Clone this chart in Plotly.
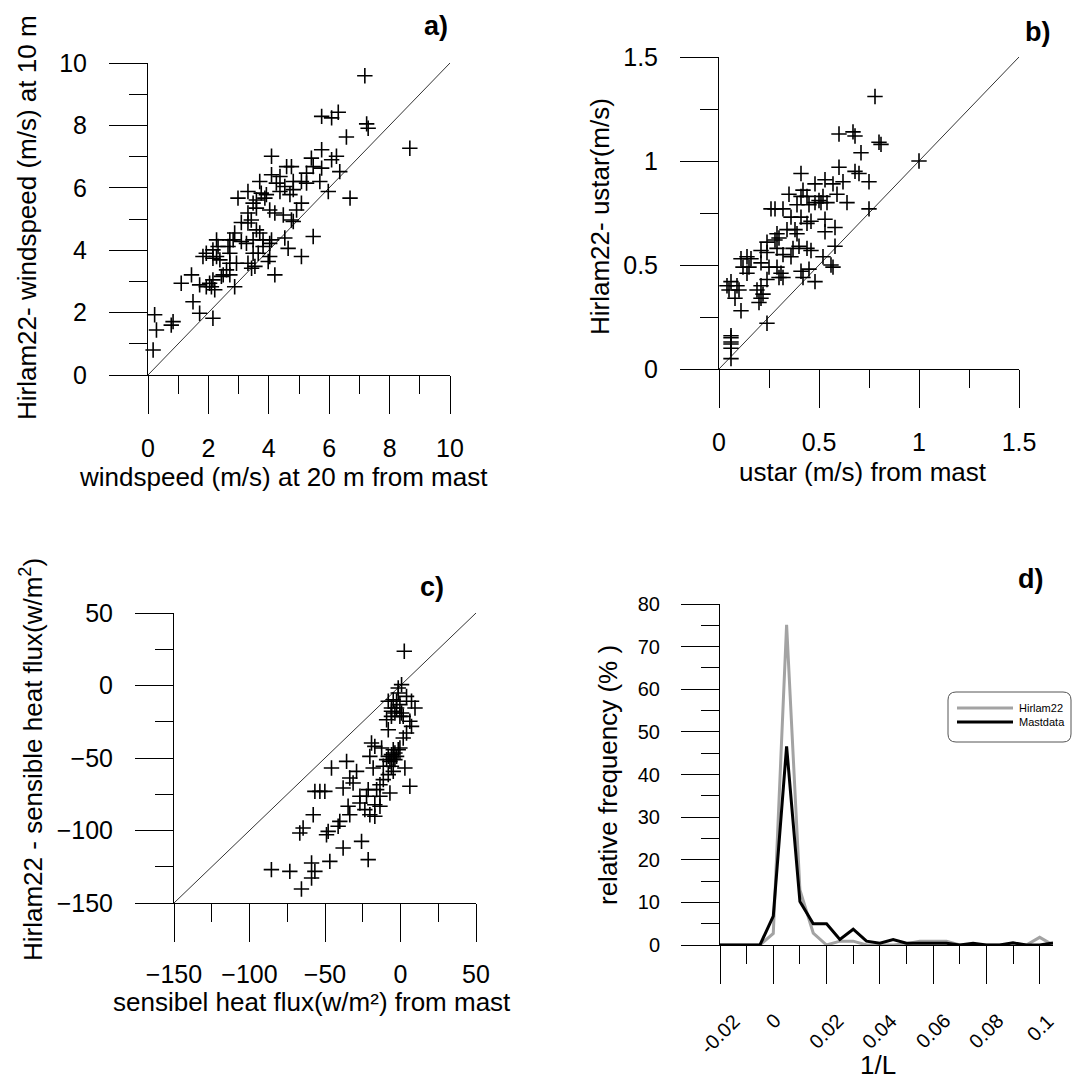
import plotly.graph_objects as go

W, H = 1072, 1079

# a) windspeed: mast (20 m) vs Hirlam22 (10 m), m/s
a_mast = [7.18, 8.67, 5.75, 6.08, 6.30, 7.24, 7.29, 6.57, 5.75, 6.24,
          6.08, 5.41, 5.75, 5.47, 6.35, 4.59, 4.75, 4.09, 5.25, 5.08,
          5.25, 5.69, 5.97, 6.69, 4.09, 4.25, 4.53, 4.81, 4.37, 4.70,
          3.70, 3.31, 2.98, 3.75, 3.92, 3.87, 3.59, 5.08, 4.92, 3.59,
          4.03, 4.20, 4.48, 4.75, 4.81, 3.31, 3.42, 3.31, 3.09, 3.59,
          3.70, 3.81, 4.03, 4.09, 3.81, 3.48, 3.26, 3.09, 2.82, 2.71,
          2.87, 2.65, 2.71, 2.27, 2.32, 2.15, 1.93, 1.82, 2.27, 2.38,
          2.15, 3.48, 3.65, 4.03, 3.98, 3.54, 3.43, 3.31, 2.71, 2.60,
          2.49, 2.43, 4.53, 4.64, 5.08, 5.47, 4.20, 2.87, 2.15, 2.04,
          2.10, 2.21, 1.93, 1.71, 1.44, 1.10, 1.49, 1.71, 2.15, 0.22,
          0.28, 0.83, 0.77, 0.17, 2.71, 4.81, 3.48, 2.93, 4.37]
a_hirlam = [9.59, 7.27, 8.29, 8.24, 8.42, 8.05, 7.91, 7.63, 7.22, 7.01,
            6.90, 6.95, 6.63, 6.68, 6.52, 6.68, 6.68, 7.01, 6.47, 6.20,
            6.15, 6.20, 5.88, 5.67, 6.42, 6.15, 6.04, 5.94, 5.88, 5.78,
            6.20, 5.88, 5.67, 5.83, 5.78, 5.67, 5.61, 5.51, 5.29, 5.35,
            5.29, 5.19, 5.13, 4.97, 4.92, 5.19, 4.97, 4.87, 4.89, 4.65,
            4.55, 4.33, 4.22, 4.33, 4.12, 4.33, 4.22, 4.28, 4.33, 4.33,
            4.55, 4.12, 3.90, 4.33, 4.12, 4.01, 3.90, 3.80, 3.80, 3.69,
            3.74, 3.90, 3.90, 3.80, 3.64, 3.48, 3.42, 3.58, 3.58, 3.37,
            3.21, 3.16, 4.39, 4.06, 3.80, 4.44, 3.21, 2.83, 3.05, 2.94,
            2.83, 2.73, 2.83, 2.89, 3.21, 2.94, 2.35, 1.98, 1.82, 1.93,
            1.44, 1.71, 1.60, 0.80, 3.21, 6.20, 5.51, 3.58, 6.36]

# b) ustar, m/s
b_mast = [0.78, 1.00, 0.60, 0.67, 0.68, 0.80, 0.81, 0.71, 0.60, 0.68,
          0.70, 0.75, 0.62, 0.41, 0.53, 0.48, 0.57, 0.42, 0.35, 0.41,
          0.44, 0.52, 0.59, 0.64, 0.75, 0.48, 0.51, 0.39, 0.45, 0.28,
          0.26, 0.36, 0.41, 0.53, 0.44, 0.46, 0.38, 0.58, 0.53, 0.29,
          0.30, 0.28, 0.24, 0.29, 0.37, 0.40, 0.44, 0.46, 0.58, 0.52,
          0.32, 0.36, 0.21, 0.24, 0.14, 0.11, 0.16, 0.21, 0.12, 0.15,
          0.25, 0.29, 0.31, 0.30, 0.32, 0.41, 0.45, 0.42, 0.56, 0.57,
          0.48, 0.24, 0.21, 0.19, 0.22, 0.21, 0.20, 0.24, 0.04, 0.06,
          0.09, 0.10, 0.08, 0.11, 0.06, 0.06, 0.06, 0.06, 0.06, 0.06,
          0.50, 0.54, 0.05, 0.32, 0.39, 0.34, 0.14]
b_hirlam = [1.31, 1.00, 1.13, 1.14, 1.12, 1.09, 1.08, 1.04, 0.97, 0.95,
            0.94, 0.90, 0.90, 0.94, 0.91, 0.89, 0.89, 0.86, 0.84, 0.83,
            0.83, 0.83, 0.84, 0.80, 0.77, 0.80, 0.80, 0.79, 0.79, 0.77,
            0.77, 0.73, 0.73, 0.72, 0.70, 0.71, 0.67, 0.68, 0.66, 0.65,
            0.63, 0.62, 0.61, 0.58, 0.58, 0.59, 0.58, 0.57, 0.59, 0.54,
            0.55, 0.54, 0.57, 0.56, 0.54, 0.53, 0.53, 0.51, 0.49, 0.49,
            0.49, 0.49, 0.46, 0.44, 0.44, 0.47, 0.48, 0.44, 0.50, 0.49,
            0.42, 0.43, 0.40, 0.38, 0.36, 0.34, 0.32, 0.22, 0.40, 0.42,
            0.40, 0.38, 0.34, 0.28, 0.16, 0.15, 0.13, 0.12, 0.10, 0.05,
            0.81, 0.80, 0.38, 0.77, 0.65, 0.67, 0.46]

# c) sensible heat flux, w/m2
c_mast = [2.5, 0.7, -1.5, -4.8, -8.1, -2.6, 4.0, 7.3, 9.6, -6.0,
          -2.6, -3.7, -6.0, -0.4, 1.8, 6.2, 7.3, -8.1, 4.0, 1.8,
          -19.2, -17.0, -0.4, -4.8, -3.7, -6.0, -8.1, -2.6, -9.2, -7.0,
          -4.8, -20.3, -18.1, -11.4, -6.0, 2.9, -45.7, -35.7, -29.1, -33.6,
          -31.4, -38.0, -8.1, -11.4, -13.6, -15.8, -21.4, -7.0, -22.5, -26.9,
          6.2, -53.4, -56.7, -50.1, -26.9, -34.7, -17.0, -13.6, -23.6, -20.3,
          -17.0, -33.6, -57.8, -64.5, -66.7, -47.9, -49.0, -41.3, -38.0, -25.8,
          -21.4, -46.8, -58.9, -56.7, -58.9, -65.6, -85.5, -73.3, -13.6, -9.2,
          -0.4, -12.5, -40.2, -4.8, -1.5, -3.7, -6.0, -1.5, 0.7]
c_hirlam = [23.6, 0.6, -1.7, -9.8, -10.9, -10.9, -7.5, -10.9, -15.5, -15.5,
            -15.5, -19.0, -21.3, -21.3, -21.3, -24.7, -28.2, -30.5, -32.8, -36.2,
            -39.7, -42.0, -43.1, -44.3, -46.6, -47.7, -48.9, -48.9, -51.1, -52.3,
            -50.0, -48.9, -56.9, -55.7, -55.7, -56.9, -56.9, -52.3, -59.2, -63.8,
            -67.2, -70.7, -61.5, -64.9, -68.4, -71.8, -71.8, -74.1, -76.4, -76.4,
            -69.5, -73.0, -73.0, -73.0, -81.0, -83.3, -82.2, -83.3, -85.6, -89.1,
            -90.2, -89.1, -89.1, -98.3, -101.7, -100.6, -102.9, -97.1, -112.1, -107.5,
            -120.1, -121.3, -122.4, -128.2, -132.8, -140.3, -127.0, -128.2, -76.4, -23.6,
            -13.2, -43.1, -93.7, -59.2, -44.3, -51.1, -17.8, -5.2, -19.0]

# d) relative frequency (%) of 1/L
d_invL = [-0.02, -0.015, -0.01, -0.005, 0.0, 0.005, 0.01, 0.015, 0.02, 0.025,
          0.03, 0.035, 0.04, 0.045, 0.05, 0.055, 0.06, 0.065, 0.07, 0.075,
          0.08, 0.085, 0.09, 0.095, 0.1, 0.105]
d_hirlam = [0, 0, 0, 0, 2.7, 75.1, 12.9, 2.8, 0, 0.9,
            0.9, 0, 0, 0, 0.3, 0.9, 0.9, 0.9, 0, 0,
            0, 0, 0.3, 0, 1.8, 0]
d_mast = [0, 0, 0, 0, 6.8, 46.6, 10.2, 5.0, 5.0, 1.3,
          3.7, 0.9, 0.4, 1.3, 0.4, 0.4, 0.4, 0.4, 0, 0.4,
          0, 0, 0.5, 0, 0, 0.5]
d_names = ['Hirlam22', 'Mastdata']
d_colors = ['#a3a3a3', 'black']
d_xtickvals = [-0.02, 0, 0.02, 0.04, 0.06, 0.08, 0.1]
d_xticktext = ['-0.02', '0', '0.02', '0.04', '0.06', '0.08', '0.1']

a_lim = [0, 10]
b_lim = [0, 1.5]
c_lim = [-150, 50]
d_xlim = [-0.02, 0.105]
d_ylim = [0, 80]

FONT = 'Liberation Sans, Arial, sans-serif'


def px(x):
    return x / W


def py(y):
    return 1 - y / H


def make_axis(dom, rng, dtick, minor, anchor, fsize=25, standoff=17, labels=True):
    return dict(domain=dom, range=rng, anchor=anchor, dtick=dtick, tick0=rng[0],
                showline=True, linecolor='black', linewidth=1, automargin=False,
                ticks='outside', ticklen=38, tickwidth=1, tickcolor='black',
                minor=dict(dtick=minor, tick0=rng[0], ticks='outside', ticklen=18,
                           tickwidth=1, tickcolor='black', showgrid=False),
                showgrid=False, zeroline=False, showticklabels=labels,
                ticklabelstandoff=standoff,
                tickfont=dict(family=FONT, size=fsize, color='black'))


fig = go.Figure()

cross = dict(symbol='cross-thin', size=11, line=dict(width=1.6, color='black'), color='black')
panels = [(a_mast, a_hirlam, a_lim, 'x', 'y'),
          (b_mast, b_hirlam, b_lim, 'x2', 'y2'),
          (c_mast, c_hirlam, c_lim, 'x3', 'y3')]
for xs, ys, lim, xa, ya in panels:
    fig.add_trace(go.Scatter(x=lim, y=lim, mode='lines', xaxis=xa, yaxis=ya,
                             line=dict(color='#333333', width=1), showlegend=False,
                             cliponaxis=False))
    fig.add_trace(go.Scatter(x=xs, y=ys, mode='markers', xaxis=xa, yaxis=ya,
                             marker=cross, showlegend=False, cliponaxis=False))

for name, vals, col in zip(d_names, [d_hirlam, d_mast], d_colors):
    fig.add_trace(go.Scatter(x=d_invL, y=vals, mode='lines', name=name,
                             xaxis='x4', yaxis='y4', showlegend=False,
                             line=dict(color=col, width=3), cliponaxis=False))

fig.update_layout(
    width=W, height=H,
    margin=dict(l=0, r=0, t=0, b=0, autoexpand=False),
    showlegend=False,
    paper_bgcolor='white', plot_bgcolor='white',
    font=dict(family=FONT, color='black'),
    xaxis=make_axis([px(148), px(450)], a_lim, 2, 1, 'y', standoff=13),
    yaxis=make_axis([py(375), py(63)], a_lim, 2, 1, 'x'),
    xaxis2=make_axis([px(719), px(1019)], b_lim, 0.5, 0.25, 'y2', standoff=13),
    yaxis2=make_axis([py(369), py(57)], b_lim, 0.5, 0.25, 'x2'),
    xaxis3=make_axis([px(174), px(476)], c_lim, 50, 25, 'y3', standoff=11),
    yaxis3=make_axis([py(903), py(613)], c_lim, 50, 25, 'x3'),
    xaxis4=make_axis([px(720), px(1053)], d_xlim, 0.02, 0.01, 'y4', labels=False),
    yaxis4=make_axis([py(945), py(604)], d_ylim, 10, 5, 'x4', fsize=20),
)

ann = []


def label(text, x, y, size=26, angle=0, bold=False):
    if bold:
        text = '<b>' + text + '</b>'
    ann.append(dict(text=text, x=px(x), y=py(y), xref='paper', yref='paper',
                    xanchor='center', yanchor='middle', showarrow=False,
                    textangle=angle, font=dict(family=FONT, size=size, color='black')))


# panel tags
label('a)', 436, 26, size=27, bold=True)
label('b)', 1037, 32, size=27, bold=True)
label('c)', 432, 587, size=27, bold=True)
label('d)', 1030, 579, size=27, bold=True)

# axis titles
label('windspeed (m/s) at 20 m from mast', 283, 477)
label('Hirlam22- windspeed (m/s) at 10 m', 27, 218, angle=-90)
label('ustar (m/s) from mast', 863, 472)
label('Hirlam22- ustar(m/s)', 600, 217, angle=-90)
label('sensibel heat flux(w/m²) from mast', 312, 1002)
label('Hirlam22 - sensible heat flux(w/m<sup>2</sup>)', 31, 760, angle=-90)
label('1/L', 878, 1065)
label('relative frequency (% )', 608, 775, angle=-90)

# rotated tick labels of panel d
for v, t in zip(d_xtickvals, d_xticktext):
    ann.append(dict(text=t, x=v, y=py(1007), xref='x4', yref='paper',
                    xanchor='center', yanchor='top', showarrow=False, textangle=-45,
                    font=dict(family=FONT, size=20, color='black')))

# legend of panel d (rounded box)
lx0, ly0, lx1, ly1, r = 948, 692, 1071, 742, 8
path = (f'M {px(lx0 + r)},{py(ly0)} L {px(lx1 - r)},{py(ly0)} '
        f'Q {px(lx1)},{py(ly0)} {px(lx1)},{py(ly0 + r)} '
        f'L {px(lx1)},{py(ly1 - r)} Q {px(lx1)},{py(ly1)} {px(lx1 - r)},{py(ly1)} '
        f'L {px(lx0 + r)},{py(ly1)} Q {px(lx0)},{py(ly1)} {px(lx0)},{py(ly1 - r)} '
        f'L {px(lx0)},{py(ly0 + r)} Q {px(lx0)},{py(ly0)} {px(lx0 + r)},{py(ly0)} Z')
shapes = [dict(type='path', path=path, xref='paper', yref='paper',
               line=dict(color='#555555', width=1))]
for i, (name, col) in enumerate(zip(d_names, d_colors)):
    yy = 708 + 14 * i
    shapes.append(dict(type='line', xref='paper', yref='paper',
                       x0=px(957), x1=px(1013), y0=py(yy), y1=py(yy),
                       line=dict(color=col, width=3)))
    ann.append(dict(text=name, x=px(1017), y=py(yy), xref='paper', yref='paper',
                    xanchor='left', yanchor='middle', showarrow=False,
                    font=dict(family=FONT, size=11, color='black')))

fig.update_layout(annotations=ann, shapes=shapes)

# drop the browser's default 8px body margin so the figure fills the window
fig.write_html("out.html", config={'displayModeBar': False},
               post_script="document.body.style.margin='0';")
